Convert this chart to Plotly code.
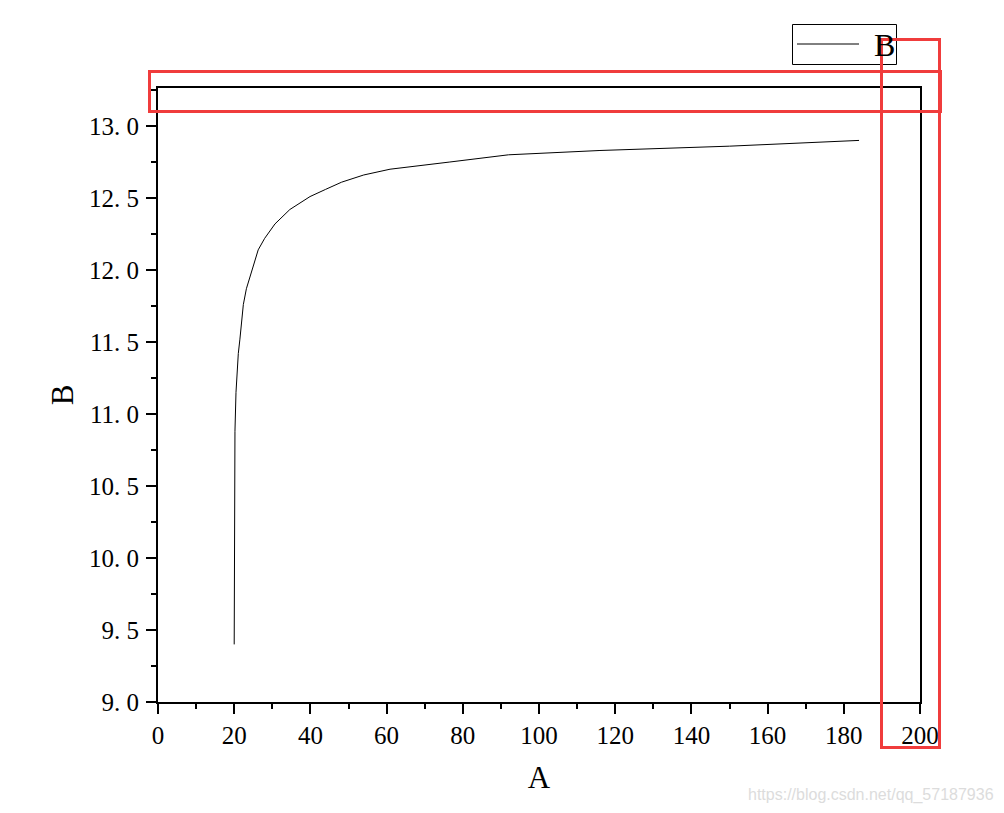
import plotly.graph_objects as go

# Data
A = [20.0, 20.03, 20.2, 20.47, 20.73, 21.08, 21.5, 22.0, 22.4, 23.2, 24.1, 25.2, 26.3, 28.0,
     30.7, 34.6, 39.9, 44.0, 48.2, 54.0, 60.9, 76.6, 92.0, 116.0, 150.0, 184.0]
B = [9.40, 10.16, 10.88, 11.15, 11.29, 11.42, 11.52, 11.67, 11.76, 11.87, 11.95, 12.06, 12.14, 12.22,
     12.32, 12.42, 12.51, 12.56, 12.61, 12.66, 12.70, 12.75, 12.80, 12.83, 12.86, 12.90]

x_ticks = [0, 20, 40, 60, 80, 100, 120, 140, 160, 180, 200]
y_ticks = [9.0, 9.5, 10.0, 10.5, 11.0, 11.5, 12.0, 12.5, 13.0]
y_labels = ["9. 0", "9. 5", "10. 0", "10. 5", "11. 0", "11. 5", "12. 0", "12. 5", "13. 0"]

FONT = "Liberation Serif"
OFF = 8  # page body margin

# plot area in page pixels
PL, PR, PT, PB = 158, 920, 88, 702
W, H = 988, 797

fig = go.Figure()
fig.add_trace(go.Scatter(x=A, y=B, mode="lines", name="B", showlegend=False,
                         line=dict(color="black", width=1)))

axis_common = dict(showline=True, linecolor="black", linewidth=2, mirror=True,
                   ticks="outside", ticklen=10, tickwidth=2, tickcolor="black",
                   showgrid=False, zeroline=False,
                   tickfont=dict(family=FONT, size=25, color="black"))

fig.update_layout(
    width=W, height=H,
    margin=dict(l=PL - OFF, r=W - (PR - OFF), t=PT - OFF, b=H - (PB - OFF)),
    paper_bgcolor="white", plot_bgcolor="white",
    xaxis=dict(range=[0, 200], tickvals=x_ticks, ticklabelstandoff=0,
               minor=dict(ticks="outside", ticklen=5, tickwidth=2, tickcolor="black", dtick=10, tick0=0),
               title=dict(text="A", font=dict(family=FONT, size=31, color="black"), standoff=18),
               **axis_common),
    yaxis=dict(range=[9.0, 13.264], tickvals=y_ticks, ticktext=y_labels, ticklabelstandoff=2,
               minor=dict(ticks="outside", ticklen=5, tickwidth=2, tickcolor="black", dtick=0.25, tick0=9.0),
               title=dict(text="B", font=dict(family=FONT, size=31, color="black"), standoff=6),
               **axis_common),
    showlegend=False,
)

def px_x(p):
    return (p - PL) / float(PR - PL)

def px_y(p):
    return (PB - p) / float(PB - PT)

# Legend drawn as a box with line sample and label
fig.add_shape(type="rect", xref="paper", yref="paper",
              x0=px_x(792.5), x1=px_x(896.5), y0=px_y(64.5), y1=px_y(24.5),
              line=dict(color="black", width=1), fillcolor="white")
fig.add_shape(type="line", xref="paper", yref="paper",
              x0=px_x(797), x1=px_x(859), y0=px_y(44), y1=px_y(44),
              line=dict(color="black", width=1))
fig.add_annotation(text="B", xref="paper", yref="paper", x=px_x(884), y=px_y(45),
                   xanchor="center", yanchor="middle", showarrow=False,
                   font=dict(family=FONT, size=32, color="black"))

# Red highlight rectangles
red = "#f03c3c"
fig.add_shape(type="rect", xref="paper", yref="paper",
              x0=px_x(149.5), x1=px_x(940.5), y0=px_y(111.5), y1=px_y(71.5),
              line=dict(color=red, width=3))
fig.add_shape(type="rect", xref="paper", yref="paper",
              x0=px_x(881.5), x1=px_x(939.5), y0=px_y(747.5), y1=px_y(39.5),
              line=dict(color=red, width=3))

fig.add_annotation(text="https://blog.csdn.net/qq_57187936", xref="paper", yref="paper",
                   x=px_x(996), y=px_y(795), xanchor="right", yanchor="middle",
                   showarrow=False, font=dict(family="Liberation Sans", size=16, color="#dcdcdc"))

fig.write_html("out.html")
